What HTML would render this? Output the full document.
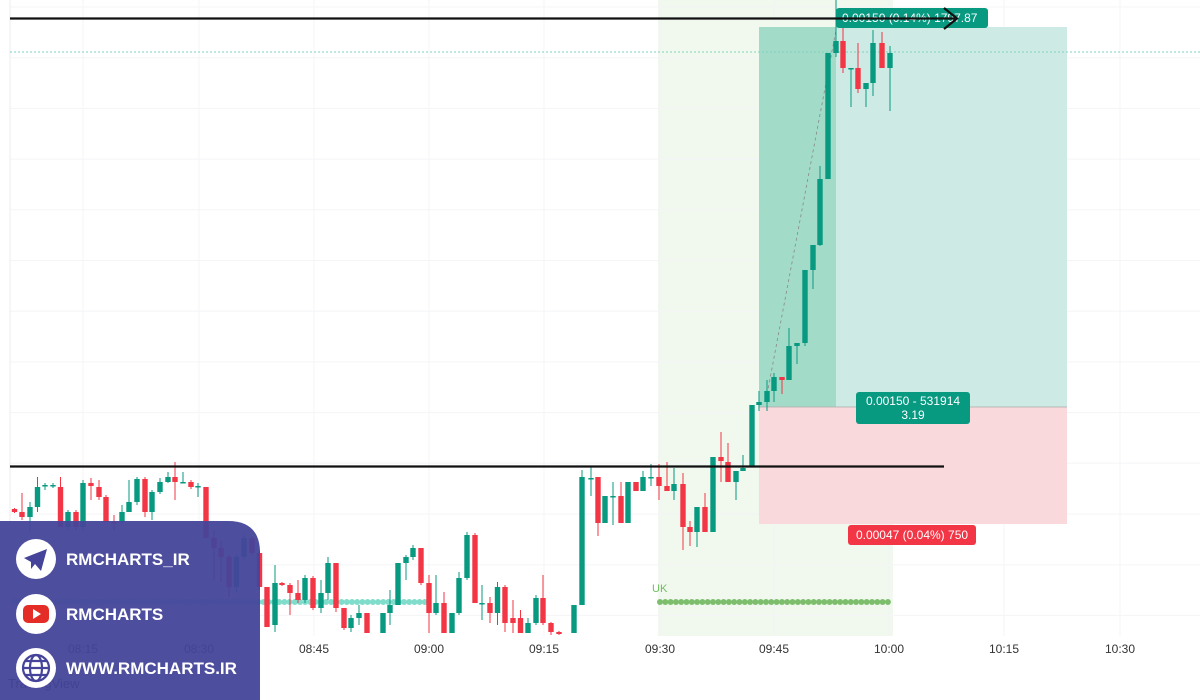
<!DOCTYPE html>
<html><head><meta charset="utf-8"><style>
html,body{margin:0;padding:0;background:#fff;}
body{width:1200px;height:700px;overflow:hidden;position:relative;font-family:"Liberation Sans",sans-serif;}
svg{position:absolute;left:0;top:0;}
</style></head><body>
<svg id="c" width="1200" height="700" xmlns="http://www.w3.org/2000/svg">
<rect x="0" y="0" width="1200" height="700" fill="#fff"/>
<rect x="658" y="0" width="235" height="636" fill="#f1f8ee"/>
<g id="grid" stroke="#f4f5f7" stroke-width="1"></g>
<line x1="10" y1="0" x2="10" y2="636" stroke="#ececec"/>
<rect x="759" y="27" width="308" height="380" fill="#cdebe4"/>
<rect x="759" y="27" width="77" height="380" fill="#a3dbc9"/>
<rect x="759" y="407" width="308" height="117" fill="#fad9dc"/>
<line x1="759" y1="407" x2="1067" y2="407" stroke="#aaa" stroke-width="0.7"/>
<line x1="10" y1="52" x2="1200" y2="52" stroke="#7fd3c0" stroke-width="1" stroke-dasharray="2,2"/>
<line x1="766" y1="400" x2="836" y2="30" stroke="#888" stroke-width="0.8" stroke-dasharray="3,3"/>
<line x1="836" y1="0" x2="836" y2="27" stroke="#8fcfc0" stroke-width="1"/>
<g id="dots"></g>
<g id="candles"></g>
<line x1="10" y1="466.5" x2="944" y2="466.5" stroke="#111" stroke-width="2.2"/>
<rect x="836" y="8" width="152" height="20" rx="3" fill="#089981"/>
<text x="842" y="22" font-size="12" fill="#fff">0.00150 (0.14%) 1797.87</text>
<line x1="10" y1="18.5" x2="955" y2="18.5" stroke="#111" stroke-width="2.2"/>
<polyline points="944,8 957,18.5 944,29" fill="none" stroke="#111" stroke-width="2.2"/>
<rect x="856" y="392" width="114" height="32" rx="3" fill="#089981"/>
<text x="913" y="405" font-size="12" fill="#fff" text-anchor="middle">0.00150 - 531914</text>
<text x="913" y="419" font-size="12" fill="#fff" text-anchor="middle">3.19</text>
<rect x="848" y="525" width="128" height="20" rx="3" fill="#f23645"/>
<text x="912" y="539" font-size="12" fill="#fff" text-anchor="middle">0.00047 (0.04%) 750</text>
<text x="652" y="592" font-size="11" fill="#6cbf5a">UK</text>
<g font-size="12" fill="#333" text-anchor="middle">
<text x="83" y="653">08:15</text><text x="199" y="653">08:30</text><text x="314" y="653">08:45</text>
<text x="429" y="653">09:00</text><text x="544" y="653">09:15</text><text x="660" y="653">09:30</text>
<text x="774" y="653">09:45</text><text x="889" y="653">10:00</text><text x="1004" y="653">10:15</text>
<text x="1120" y="653">10:30</text></g>
<text x="8" y="688" font-size="13" fill="#222">TradingView</text>
<path d="M0,521 H228 Q260,521 260,553 V700 H0 Z" fill="#45449a" fill-opacity="0.95"/>
<circle cx="36" cy="559" r="20" fill="#fff"/>
<path d="M24,558 L47,549 L41,571 L35,564 L31,569 L31,562 Z" fill="#45449a"/>
<circle cx="36" cy="614" r="20" fill="#fff"/>
<rect x="23" y="605" width="26" height="18" rx="5" fill="#e52d27"/>
<path d="M33,609 L41,614 L33,619 Z" fill="#fff"/>
<circle cx="36" cy="668" r="20" fill="#fff"/>
<g fill="none" stroke="#45449a" stroke-width="2.2"><circle cx="36" cy="668" r="13"/><ellipse cx="36" cy="668" rx="6" ry="13"/><line x1="23" y1="668" x2="49" y2="668"/><line x1="25" y1="661" x2="47" y2="661"/><line x1="25" y1="675" x2="47" y2="675"/></g>
<g font-size="17" font-weight="bold" fill="#fff">
<text x="66" y="565">RMCHARTS_IR</text><text x="66" y="620">RMCHARTS</text><text x="66" y="674">WWW.RMCHARTS.IR</text></g>
</svg>
<script>
var ns="http://www.w3.org/2000/svg";
function el(p,t,a){var e=document.createElementNS(ns,t);for(var k in a)e.setAttribute(k,a[k]);p.appendChild(e);return e;}
var g=document.getElementById('grid');
[83,199,314,429,544,660,774,889,1004,1120].forEach(function(x){el(g,'line',{x1:x,y1:0,x2:x,y2:636});});
for(var y=7;y<636;y+=50.7)el(g,'line',{x1:10,y1:y,x2:1200,y2:y});
var d=document.getElementById('dots');
for(var x=14;x<=425;x+=5.2)el(d,'circle',{cx:x,cy:602,r:3,fill:'#80dccb'});
for(var x=660;x<=891;x+=5.3)el(d,'circle',{cx:x,cy:602,r:3,fill:'#7dbe6d'});
var C=[[14.5,509,512,508,513],[22,512,517,493,520],[30,517,507,502,532],[37.5,507,487,477,512],[45,485,485,483,490],[53,485,485,483,488],
[60.5,487,527,477,527],[68,527,512,510,530],[76,512,527,510,530],[83,527,483,480,530],[91,483,486,478,500],[99,487,497,480,500],
[106,497,522,495,522],[114,522,523,515,530],[122,522,512,505,525],[129,512,502,480,512],[137,502,479,477,505],[145,479,512,477,517],
[152,512,492,490,520],[160,492,482,478,494],[168,482,477,472,483],[175,477,482,462,500],[183,482,482,472,483],[191,482,487,480,489],
[198,486,486,483,497],[206,487,538,487,538],[214,538,548,530,580],[221,548,557,540,582],[229,557,587,555,597],[236.5,587,557,555,592],
[244,557,538,535,560],[252,538,553,536,555],[259.5,553,587,550,590],[267,587,627,587,627],[275,625,583,565,632],[282,583,585,582,586],
[290,585,593,583,615],[298,593,600,580,603],[305,600,578,575,603],[313,578,608,576,610],[321,608,593,580,613],[328,593,563,557,600],
[336,563,608,563,612],[344,608,628,608,630],[351,628,618,615,632],[359,618,613,605,625],[367,613,633,613,633],[383,633,613,613,633],
[390,613,605,590,625],[398,605,563,563,605],[406,563,557,555,580],[413,557,548,545,560],[421,548,583,548,585],[429,583,613,575,633],
[436,613,603,575,615],[444,603,633,592,633],[452,633,613,613,633],[459,613,578,572,615],[467,578,535,532,580],[475,535,603,533,603],
[482,603,603,585,620],[490,603,613,597,623],[497.5,613,587,582,625],[505,587,623,585,632],[513,618,623,600,633],[520.5,618,633,610,633],
[528,633,623,618,633],[536,623,598,595,625],[543,598,623,575,625],[551,623,632,622,635],[559,632,634,631,635],[574,633,605,605,633],
[582,605,477,470,605],[591,478,478,467,496],[598,477,523,477,536],[605,523,496,496,523],[613,496,496,482,525],[621,496,523,482,523],
[628,523,482,482,523],[636,482,491,482,491],[643,491,477,471,491],[651,477,477,464,486],[659,477,486,464,500],[667,486,491,462,491],
[674,491,484,468,500],[683,484,527,473,550],[690,527,532,521,546],[697,532,507,507,547],[705,507,532,493,532],[713,532,457,457,532],
[721,457,461,432,482],[728,462,482,443,482],[736,482,471,471,500],[743,471,468,455,471],[752,466,405,405,466],[759,405,402,391,411],
[767,402,391,380,411],[774,391,377,373,402],[782,377,380,377,394],[789,380,346,328,380],[797,346,343,343,364],[805,343,270,270,346],
[813,270,245,245,289],[820,245,179,166,246],[828,179,53,53,179],[836,53,41,0,57],[843,41,68,28,73],[851,68,68,68,107],
[858,68,89,43,93],[866,89,83,83,107],[873,83,43,30,96],[882,43,68,32,68],[890,68,53,46,111]];
var cg=document.getElementById('candles');
C.forEach(function(c){var col=(c[2]<=c[1])?'#089981':'#f23645';
el(cg,'line',{x1:c[0],y1:c[3],x2:c[0],y2:c[4],stroke:col,'stroke-width':1});
var t=Math.min(c[1],c[2]),h=Math.max(1.5,Math.abs(c[1]-c[2]));
el(cg,'rect',{x:c[0]-2.7,y:t,width:5.4,height:h,fill:col});});
</script>
</body></html>
